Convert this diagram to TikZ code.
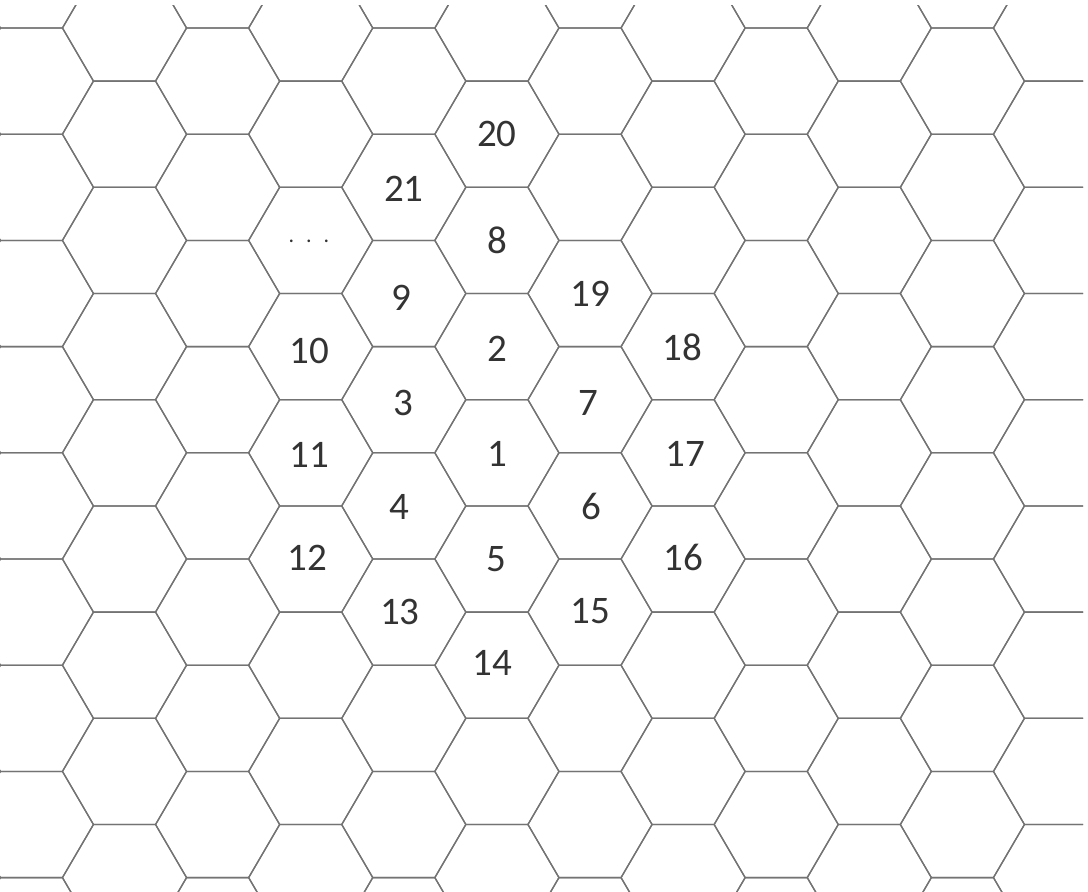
\documentclass[tikz,border=0pt]{standalone}
\usepackage{fontspec}
\setmainfont{Carlito}
\begin{document}
\begin{tikzpicture}[x=1pt,y=-1pt,
  hexline/.style={draw=black!55,line width=1.3pt,line join=miter},
  lbl/.style={font=\fontsize{39}{44}\selectfont,text=black!80,inner sep=0pt}]
\useasboundingbox (0,0) rectangle (1088,892);
\begin{scope}
\clip (0,5) rectangle (1083,892);
\foreach \c in {-2,...,11}{
  \foreach \k in {-2,...,9}{
    \pgfmathsetmacro\cx{124.5+93.1*\c}
    \pgfmathsetmacro\cy{134.2+106.2*\k-53.1*Mod(\c,2)}
    \draw[hexline] (\cx-62,\cy) -- (\cx-31,\cy-53.1) -- (\cx+31,\cy-53.1)
      -- (\cx+62,\cy) -- (\cx+31,\cy+53.1) -- (\cx-31,\cy+53.1) -- cycle;
  }
}
\end{scope}
% column 4
\node[lbl] (n20) at (496.9,134.2) {20};
\node[lbl] (n8)  at (496.9,240.4) {8};
\node[lbl] (n2)  at (496.9,348.6) {2};
\node[lbl] (n1)  at (496.9,453.8) {1};
\node[lbl] (n5)  at (495.9,559.0) {5};
\node[lbl] (n14) at (492.0,663.2) {14};
% column 3
\node[lbl] (n21) at (403.8,189.3) {21};
\node[lbl] (n9)  at (401.0,297.5) {9};
\node[lbl] (n3)  at (403.8,402.7) {3};
\node[lbl] (n4)  at (399.8,506.9) {4};
\node[lbl] (n13) at (399.8,612.1) {13};
% column 2
\node[font=\fontsize{22}{24}\selectfont,text=black!80,inner sep=0pt] (ndots) at (309.0,241.0) {.\hspace{12pt}.\hspace{12pt}.};
\node[lbl] (n10) at (309.5,350.6) {10};
\node[lbl] (n11) at (309.5,454.8) {11};
\node[lbl] (n12) at (307.5,558.0) {12};
% column 5
\node[lbl] (n19) at (590.0,293.5) {19};
\node[lbl] (n7)  at (588.0,402.7) {7};
\node[lbl] (n6)  at (591.0,506.9) {6};
\node[lbl] (n15) at (590.0,611.1) {15};
% column 6
\node[lbl] (n18) at (682.1,347.6) {18};
\node[lbl] (n17) at (685.1,453.8) {17};
\node[lbl] (n16) at (683.1,557.0) {16};
\end{tikzpicture}
\end{document}
